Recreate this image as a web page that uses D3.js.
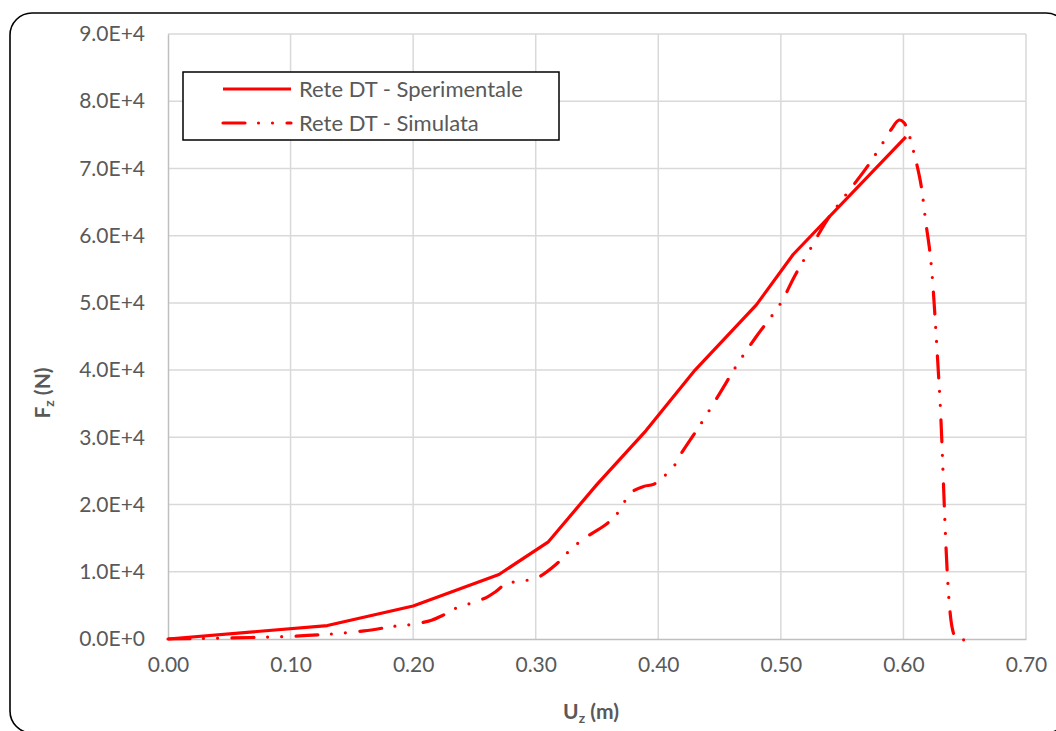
<!DOCTYPE html>
<html>
<head>
<meta charset="utf-8">
<script src="https://cdn.jsdelivr.net/npm/d3@7"></script>
<style>
  html, body { margin: 0; padding: 0; background: #fff; }
  svg { display: block; }
  text { font-family: Lato, "Open Sans", sans-serif; fill: #595959; }
</style>
</head>
<body>
<svg id="chart" width="1056" height="731"></svg>
<script>
// Displacement U_z (m) and force F_z (N) of the DT net
const expU = [0, 0.13, 0.20, 0.27, 0.31, 0.35, 0.39, 0.43, 0.48, 0.51, 0.602];
const expF = [0, 2000, 4900, 9600, 14400, 23000, 31000, 40000, 49700, 57200, 74700];

const simU = [0, 0.05, 0.10, 0.13, 0.16, 0.185, 0.20, 0.215, 0.225, 0.235, 0.25, 0.26, 0.267, 0.275,
  0.285, 0.30, 0.316, 0.324, 0.332, 0.345, 0.357, 0.365, 0.371, 0.378, 0.388, 0.396, 0.404, 0.412,
  0.418, 0.434, 0.45, 0.465, 0.48, 0.50, 0.511, 0.523, 0.538, 0.551, 0.5695, 0.5815, 0.59, 0.5965,
  0.6005, 0.6046, 0.6076, 0.61, 0.6143, 0.6184, 0.6223, 0.6293, 0.6402, 0.6437, 0.656];
const simF = [0, 150, 400, 700, 1200, 1900, 2200, 2800, 3600, 4600, 5500, 6200, 7000, 8100,
  8600, 9000, 11000, 12500, 13900, 15600, 17000, 18300, 20000, 21800, 22700, 23000, 24100, 25500,
  27400, 31800, 36500, 41000, 45000, 50000, 53900, 57700, 62400, 65600, 70000, 73300, 75800, 77200,
  76800, 75000, 73000, 71300, 67600, 61800, 56400, 37300, 1300, 0, 0];

const seriesNames = ["Rete DT - Sperimentale", "Rete DT - Simulata"];
const xTicks = [0, 0.1, 0.2, 0.3, 0.4, 0.5, 0.6, 0.7];
const yTicks = [0, 10000, 20000, 30000, 40000, 50000, 60000, 70000, 80000, 90000];

const svg = d3.select("#chart");

// chart frame with rounded corners
svg.append("rect")
  .attr("x", 10).attr("y", 13)
  .attr("width", 1058).attr("height", 720)
  .attr("rx", 22).attr("ry", 22)
  .attr("fill", "#fff").attr("stroke", "#000").attr("stroke-width", 1.6);

const x = d3.scaleLinear().domain([0, 0.7]).range([168, 1026]);
const y = d3.scaleLinear().domain([0, 90000]).range([639, 34]);

// grid
const grid = svg.append("g");
grid.selectAll("line.v").data(xTicks.slice(1)).join("line")
  .attr("x1", d => x(d)).attr("x2", d => x(d))
  .attr("y1", y(90000)).attr("y2", y(0))
  .attr("stroke", "#d9d9d9").attr("stroke-width", 1.5);
grid.selectAll("line.h").data(yTicks.slice(1)).join("line")
  .attr("x1", x(0)).attr("x2", x(0.7))
  .attr("y1", d => y(d)).attr("y2", d => y(d))
  .attr("stroke", "#d9d9d9").attr("stroke-width", 1.5);

// axes
const fmtY = v => v === 0 ? "0.0E+0" : (v / 10000).toFixed(1) + "E+4";

const xAxis = svg.append("g")
  .attr("transform", `translate(0,${y(0)})`)
  .call(d3.axisBottom(x).tickValues(xTicks).tickFormat(d3.format(".2f")).tickSize(0).tickPadding(18));
xAxis.select(".domain").attr("stroke", "#bfbfbf").attr("stroke-width", 1.5);
xAxis.selectAll("text").style("font-size", "21px").attr("fill", "#595959").style("font-family", "Lato, sans-serif");

const yAxis = svg.append("g")
  .attr("transform", `translate(${x(0)},0)`)
  .call(d3.axisLeft(y).tickValues(yTicks).tickFormat(fmtY).tickSize(0).tickPadding(23));
yAxis.select(".domain").attr("stroke", "#bfbfbf").attr("stroke-width", 1.5);
yAxis.selectAll("text").style("font-size", "21px").attr("fill", "#595959").style("font-family", "Lato, sans-serif");

// axis titles
const xt = svg.append("text")
  .attr("x", 591).attr("y", 719)
  .attr("text-anchor", "middle")
  .style("font-size", "21px").style("font-weight", "bold");
xt.append("tspan").text("U");
xt.append("tspan").text("z").style("font-size", "14px").attr("dy", 4);
xt.append("tspan").text(" (m)").attr("dy", -4);

const yt = svg.append("text")
  .attr("transform", "translate(50,393) rotate(-90)")
  .attr("text-anchor", "middle")
  .style("font-size", "21px").style("font-weight", "bold");
yt.append("tspan").text("F");
yt.append("tspan").text("z").style("font-size", "14px").attr("dy", 4);
yt.append("tspan").text(" (N)").attr("dy", -4);

// series
const simDash = "22 13.5 0 14 0 14.5";
const expData = expU.map((u, i) => [u, expF[i]]);
const simData = simU.map((u, i) => [u, simF[i]]);

svg.append("path")
  .datum(simData)
  .attr("d", d3.line().x(d => x(d[0])).y(d => y(d[1])).curve(d3.curveCatmullRom.alpha(0.5)))
  .attr("fill", "none").attr("stroke", "#ff0000").attr("stroke-width", 3.2)
  .attr("stroke-linecap", "round").attr("stroke-linejoin", "round")
  .attr("stroke-dasharray", simDash);

svg.append("path")
  .datum(expData)
  .attr("d", d3.line().x(d => x(d[0])).y(d => y(d[1])))
  .attr("fill", "none").attr("stroke", "#ff0000").attr("stroke-width", 3.2)
  .attr("stroke-linejoin", "round");

// legend
const lg = svg.append("g");
lg.append("rect")
  .attr("x", 183).attr("y", 72).attr("width", 376).attr("height", 68)
  .attr("fill", "#fff").attr("stroke", "#000").attr("stroke-width", 1.5);
const rows = [
  { name: seriesNames[0], dash: null, yy: 89 },
  { name: seriesNames[1], dash: simDash, yy: 123 }
];
rows.forEach(r => {
  lg.append("line")
    .attr("x1", 223).attr("x2", 291).attr("y1", r.yy).attr("y2", r.yy)
    .attr("stroke", "#ff0000").attr("stroke-width", 3.2)
    .attr("stroke-linecap", r.dash ? "round" : "butt")
    .attr("stroke-dasharray", r.dash);
  lg.append("text")
    .attr("x", 299).attr("y", r.yy + 7.5)
    .style("font-size", "22px")
    .text(r.name);
});
</script>
</body>
</html>
